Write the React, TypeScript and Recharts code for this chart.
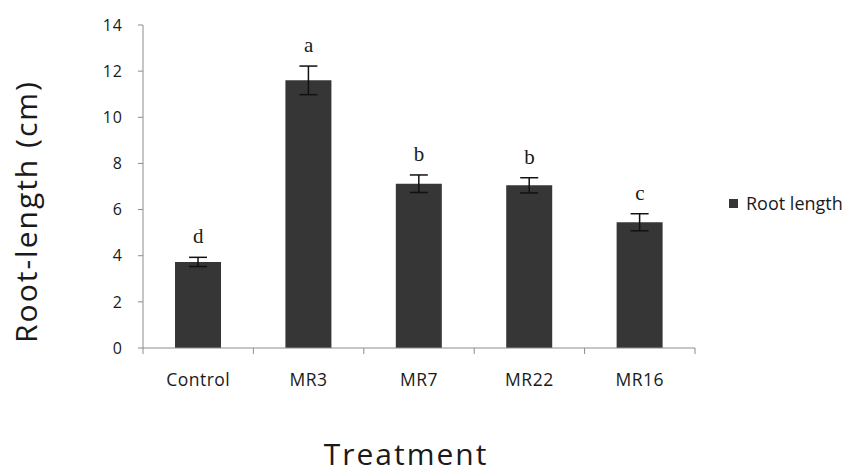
import React from 'react';
import {
  ComposedChart,
  Bar,
  Line,
  XAxis,
  YAxis,
  ErrorBar,
  LabelList,
  Legend,
} from 'recharts';

const treatments = ['Control', 'MR3', 'MR7', 'MR22', 'MR16'];
const rootLength = [3.73, 11.6, 7.12, 7.05, 5.45];
const stdError = [0.2, 0.62, 0.38, 0.33, 0.37];
const letters = ['d', 'a', 'b', 'b', 'c'];
const yTicks = [0, 2, 4, 6, 8, 10, 12, 14];

const data = treatments.map((name, i) => ({
  name,
  value: rootLength[i],
  err: stdError[i],
  top: rootLength[i] + stdError[i],
  letter: letters[i],
}));

const FONT = '"Open Sans", "Liberation Sans", sans-serif';
const AXIS = '#8c8c8c';
const BAR = '#363636';
const X_TICK_MARGIN = 26;
const X_TICK_LEN = 6;

const YLabel = (props: any) => {
  const vb = props.viewBox || { x: 0, y: 0, width: 0, height: 0 };
  const cx = vb.x + 25;
  const cy = vb.y + vb.height / 2 + 25;
  return (
    <text
      x={cx}
      y={cy}
      transform={`rotate(-90 ${cx} ${cy})`}
      textAnchor="middle"
      dominantBaseline="central"
      fontFamily={FONT}
      fontSize={30}
      letterSpacing={2}
      fill="#1a1a1a"
    >
      Root-length (cm)
    </text>
  );
};

const XLabel = (props: any) => {
  const vb = props.viewBox || { x: 0, y: 0, width: 0, height: 0 };
  return (
    <text
      x={vb.x + vb.width / 2 - 13}
      y={vb.y + vb.height - 8}
      textAnchor="middle"
      fontFamily={FONT}
      fontSize={30}
      letterSpacing={2}
      fill="#1a1a1a"
    >
      Treatment
    </text>
  );
};

const XTick = (props: any) => {
  const { x, y, payload, index, visibleTicksCount, width } = props;
  const count = visibleTicksCount || treatments.length;
  const half = Number(width) / count / 2;
  const axisY = y - X_TICK_MARGIN;
  const lines = [x - half];
  if (index === count - 1) lines.push(x + half);
  return (
    <g>
      {Number.isFinite(half) &&
        lines.map((lx, k) => (
          <line key={k} x1={lx} x2={lx} y1={axisY} y2={axisY + X_TICK_LEN} stroke={AXIS} />
        ))}
      <text
        x={x}
        y={y}
        dy="0.71em"
        textAnchor="middle"
        fontFamily={FONT}
        fontSize={17.5}
        letterSpacing={0.5}
        fill="#1a1a1a"
      >
        {payload.value}
      </text>
    </g>
  );
};

const LegendContent = () => (
  <div style={{ display: 'flex', alignItems: 'center', fontFamily: FONT, fontSize: 18, color: '#1a1a1a', whiteSpace: 'nowrap' }}>
    <span style={{ display: 'inline-block', width: 9, height: 9, background: BAR, marginRight: 8 }} />
    Root length
  </div>
);

export default function App() {
  return (
    <div style={{ position: 'absolute', left: 0, top: 0, background: '#fff' }}>
      <ComposedChart
        width={847}
        height={473}
        data={data}
        margin={{ top: 25, right: 152, left: 0, bottom: 0 }}
        barCategoryGap="29%"
      >
        <XAxis
          dataKey="name"
          tickLine={false}
          tickSize={0}
          tickMargin={X_TICK_MARGIN}
          axisLine={{ stroke: AXIS }}
          tick={<XTick />}
          interval={0}
          height={125}
          label={<XLabel />}
        />
        <YAxis
          width={143}
          domain={[0, 14]}
          ticks={yTicks}
          tickSize={5}
          tickMargin={15}
          tickLine={{ stroke: AXIS }}
          axisLine={{ stroke: AXIS }}
          tick={{ fontFamily: FONT, fontSize: 16, letterSpacing: 1, fill: '#1a1a1a' }}
          label={<YLabel />}
        />
        <Legend
          verticalAlign="middle"
          align="center"
          layout="horizontal"
          content={<LegendContent />}
          wrapperStyle={{ left: 729, top: 191, width: 118 }}
        />
        <Bar dataKey="value" fill={BAR} isAnimationActive={false} legendType="square">
          <ErrorBar dataKey="err" width={9} stroke="#111" strokeWidth={1.5} direction="y" />
        </Bar>
        <Line
          dataKey="top"
          stroke="none"
          dot={false}
          activeDot={false}
          isAnimationActive={false}
          legendType="none"
        >
          <LabelList
            dataKey="letter"
            position="top"
            offset={14}
            style={{ fontFamily: '"Liberation Serif", "DejaVu Serif", serif', fontSize: 21, fill: '#1a1a1a' }}
          />
        </Line>
      </ComposedChart>
    </div>
  );
}
